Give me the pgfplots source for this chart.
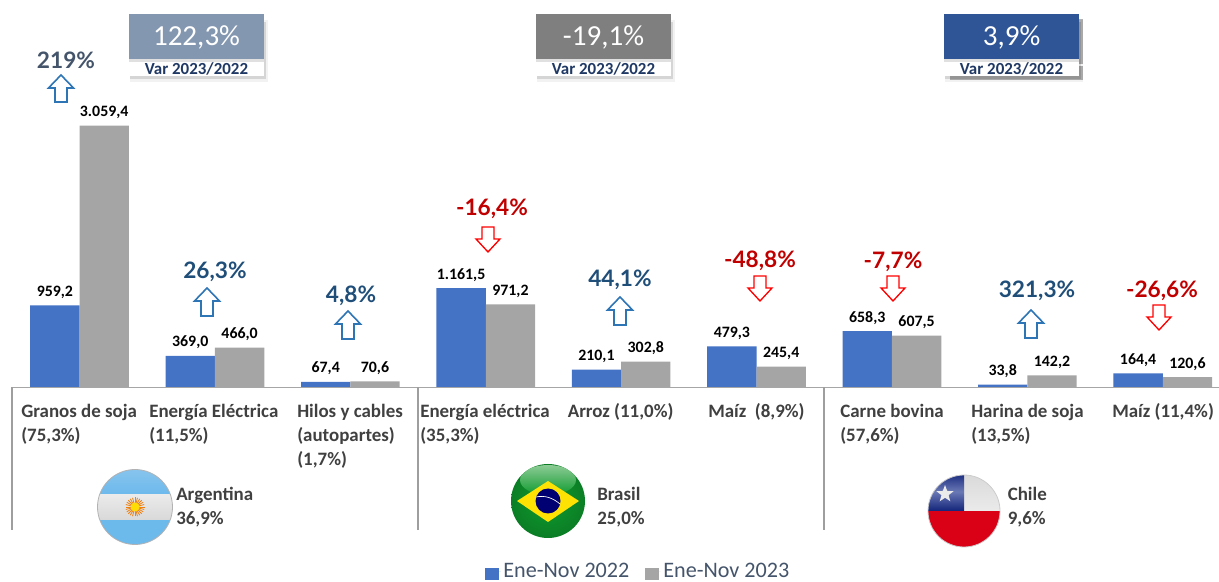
\documentclass[border=0pt]{standalone}
\usepackage{fontspec}
\setmainfont{Carlito}
\newfontfamily\pctfont{Lato}
\usepackage{pgfplots}
\pgfplotsset{compat=1.18}
\usetikzlibrary{shapes.geometric}

\definecolor{barblue}{HTML}{4472C4}
\definecolor{bargray}{HTML}{A5A5A5}
\definecolor{txtgray}{HTML}{404040}
\definecolor{upblue}{HTML}{2E75B6}
\definecolor{pctblue}{HTML}{1F4E79}
\definecolor{pctred}{HTML}{C00000}
\definecolor{navy}{HTML}{44546A}
\definecolor{vartxt}{HTML}{1F3864}
\definecolor{boxa}{HTML}{8497B0}
\definecolor{boxb}{HTML}{7F7F7F}
\definecolor{boxc}{HTML}{2F5597}
\definecolor{skya}{HTML}{8CC6EE}
\definecolor{skyb}{HTML}{6CB9EC}
\definecolor{brgreen}{HTML}{0E9A2E}
\definecolor{brdark}{HTML}{0B7A24}
\definecolor{brlight}{HTML}{8CCB95}
\definecolor{clred}{HTML}{DA0015}
\definecolor{clnavy}{HTML}{12247A}
\definecolor{clmid}{HTML}{6A78B4}

\pgfplotstableread{
idx v2022 v2023
0 959.2 3059.4
1 369.0 466.0
2 67.4 70.6
3 1161.5 971.2
4 210.1 302.8
5 479.3 245.4
6 658.3 607.5
7 33.8 142.2
8 164.4 120.6
}\datatable

% picture units: 1 px of the reference = 0.75pt
\newcommand{\catlabel}[3]{\node[anchor=base west,inner sep=0pt,text=txtgray,font=\fontsize{14.2pt}{16pt}\selectfont\bfseries] at (#1,#2+0.7) {#3};}
\newcommand{\pct}[4]{\node[anchor=center,inner sep=0pt,text=#4,font=\fontsize{17pt}{20pt}\selectfont\pctfont\bfseries] at (#1,#2) {#3};}
\newcommand{\uparr}[3]{\draw[upblue,line width=1.2pt,fill=white,line join=miter] (#1,#2) -- ++(12.5,13) -- ++(-6.5,0) -- (#1+6,#3) -- (#1-6,#3) -- (#1-6,#2+13) -- (#1-12.5,#2+13) -- cycle;}
\newcommand{\downarr}[3]{\draw[red,line width=1pt,fill=white,line join=miter] (#1,#3) -- ++(12,-13) -- ++(-6,0) -- (#1+6,#2) -- (#1-6,#2) -- (#1-6,#3-13) -- (#1-12,#3-13) -- cycle;}
\newcommand{\varbox}[6]{%
  \fill[black,opacity=.05] (#1-1+#5,20) rectangle (#1+137+#5,82);
  \fill[black,opacity=#6] (#1+#5*.5,22) rectangle (#1+135+#5,79);
  \fill[#2] (#1,14) rectangle (#1+135,59);
  \fill[black!12] (#1,59) rectangle (#1+135,62);
  \fill[white] (#1,62) rectangle (#1+135,76);
  \node[text=white,inner sep=0pt,font=\fontsize{21.8pt}{24pt}\selectfont] at (#1+67.5,37.5) {#3};
  \node[text=vartxt,inner sep=0pt,font=\fontsize{12.7pt}{14pt}\selectfont\bfseries] at (#1+67.5,69) {#4};
}

\begin{document}
\begin{tikzpicture}
\useasboundingbox (0,0) rectangle (914.25pt,435.75pt);
\begin{axis}[
  at={(0,0)}, anchor=south west,
  scale only axis, width=914.25pt, height=435.75pt,
  axis lines=none, clip=false,
  xmin=-0.5875, xmax=8.4155, ymin=-2260, ymax=4527,
  ybar=0pt, bar width=37pt,
  /pgf/number format/assume math mode=true,
  /pgf/number format/.cd, fixed, fixed zerofill, precision=1, use comma, 1000 sep={.},
  /pgfplots/.cd,
  nodes near coords,
  every node near coord/.append style={font=\fontsize{11.9pt}{13pt}\selectfont\bfseries, text=black, anchor=south, yshift=5pt, inner sep=0pt},
  legend columns=2,
  legend style={at={(0.398,-0.003)}, anchor=south west, draw=none, fill=none,
    font=\fontsize{16.6pt}{17pt}\selectfont, text=navy, inner sep=0pt,
    /tikz/every even column/.append style={column sep=10pt}},
]
\addplot[draw=none, fill=barblue, legend image code/.code={\fill[barblue] (0pt,-6pt) rectangle (10pt,3pt); \path (0pt,0pt) -- (11.5pt,0pt);}] table[x=idx,y=v2022] {\datatable};
\addplot[draw=none, fill=bargray, legend image code/.code={\fill[bargray] (0pt,-6pt) rectangle (10pt,3pt); \path (0pt,0pt) -- (11.5pt,0pt);}] table[x=idx,y=v2023] {\datatable};
\legend{Ene-Nov 2022, Ene-Nov 2023}
\end{axis}

\begin{scope}[shift={(0,435.75pt)}, x=0.75pt, y=-0.75pt]
% baseline and separators
\draw[black!35,line width=.9pt] (11,387.5) -- (1219,387.5);
\foreach \xx in {12,418,824} \draw[black!38,line width=.9pt] (\xx,387.5) -- (\xx,530);

% variation boxes
\varbox{129}{boxa}{122,3\%}{Var 2023/2022}{1.5}{.12}
\varbox{536}{boxb}{-19,1\%}{Var 2023/2022}{1.5}{.12}
\fill[black,opacity=.3] (950,19) rectangle (1083,64);
\fill[black,opacity=.3] (950,66) rectangle (1083,80);
\varbox{944}{boxc}{3,9\%}{Var 2023/2022}{2}{.12}

% product labels
\catlabel{21}{417}{Granos de soja}
\catlabel{21}{441}{(75,3\%)}
\catlabel{149}{417}{Energía Eléctrica}
\catlabel{149}{441}{(11,5\%)}
\catlabel{297}{417}{Hilos y cables}
\catlabel{297}{441}{(autopartes)}
\catlabel{297}{465}{(1,7\%)}
\catlabel{420}{417}{Energía eléctrica}
\catlabel{420}{441}{(35,3\%)}
\catlabel{567.5}{417}{Arroz (11,0\%)}
\catlabel{708}{417}{Maíz\ \ (8,9\%)}
\catlabel{840}{417}{Carne bovina}
\catlabel{840}{441}{(57,6\%)}
\catlabel{971}{417}{Harina de soja}
\catlabel{971}{441}{(13,5\%)}
\catlabel{1112}{417}{Maíz (11,4\%)}

% country labels
\catlabel{176}{500}{Argentina}
\catlabel{176}{524}{36,9\%}
\catlabel{597}{500}{Brasil}
\catlabel{597}{524}{25,0\%}
\catlabel{1007.5}{500}{Chile}
\catlabel{1007.5}{524}{9,6\%}

% change percentages
\pct{66}{60}{219\%}{navy}
\pct{215}{272}{26,3\%}{pctblue}
\pct{351}{296}{4,8\%}{pctblue}
\pct{492}{209}{-16,4\%}{pctred}
\pct{620}{280}{44,1\%}{pctblue}
\pct{760}{261}{-48,8\%}{pctred}
\pct{893}{262}{-7,7\%}{pctred}
\pct{1037}{291}{321,3\%}{pctblue}
\pct{1162}{291}{-26,6\%}{pctred}

% arrows
\uparr{61}{75}{102}
\uparr{207}{288}{316}
\uparr{348}{311}{339}
\uparr{620}{297}{325}
\uparr{1031}{310}{338}
\downarr{488}{227}{252}
\downarr{760}{276}{301}
\downarr{893}{276}{301}
\downarr{1159}{305}{330}

% flag of Argentina
\begin{scope}
\clip (135,507) circle (37.5);
\shade[top color=skya,bottom color=skyb] (90,465) rectangle (180,494.5);
\shade[top color=white!92!black,bottom color=white!85!black] (90,494.5) rectangle (180,520);
\fill[skyb] (90,520) rectangle (180,550);
\foreach \a in {0,15,...,345} \draw[orange!75!brown,line width=.6pt] (135,507) -- ++(\a:9.5);
\fill[yellow!80!orange] (135,507) circle (4.5);
\end{scope}
\draw[black!30,line width=.6pt] (135,507) circle (37.5);

% flag of Brazil
\begin{scope}
\clip (548,501) circle (37);
\shade[inner color=brgreen,outer color=brdark] (505,460) rectangle (591,542);
\shade[top color=brlight,bottom color=brgreen] (548,480) ellipse (28 and 15);
\fill[yellow!85!orange] (517,501) -- (548,481) -- (579,501) -- (548,522) -- cycle;
\fill[blue!45!black] (548,501) circle (12.5);
\draw[white,line width=.5pt] (536,497) .. controls (545,495) and (553,498) .. (560,504);
\end{scope}

% flag of Chile
\begin{scope}
\clip (964,511) circle (36);
\fill[clred] (925,511) rectangle (1003,550);
\shade[top color=white!85!black,bottom color=white!92!black] (964,472) rectangle (1003,511);
\shade[top color=clnavy,bottom color=clnavy,middle color=clmid] (925,472) rectangle (964,511);
\node[star,star points=5,star point ratio=2.4,fill=white!92!black,inner sep=0pt,minimum size=13.5pt] at (945,494) {};
\end{scope}
\draw[black!20,line width=.6pt] (964,511) circle (36);
\end{scope}
\end{tikzpicture}
\end{document}
